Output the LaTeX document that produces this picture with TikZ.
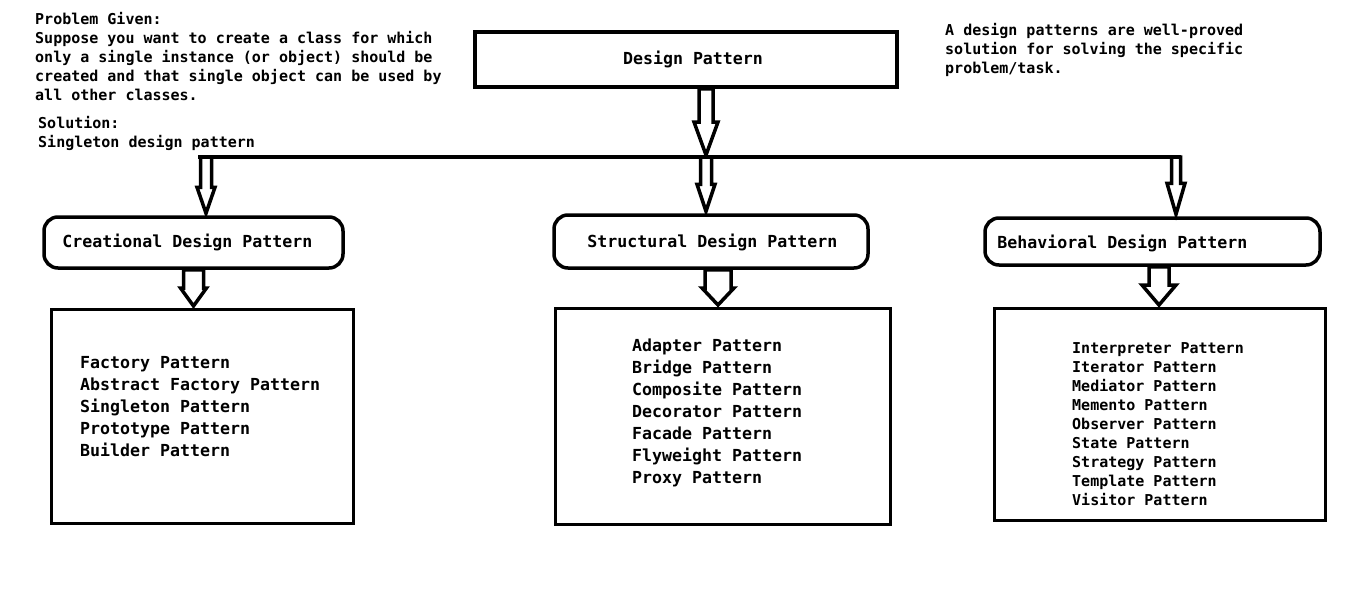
\documentclass[tikz,border=0pt]{standalone}
\usepackage{fontspec}
\newfontfamily\consfont{DejaVu Sans Mono}
\newcommand{\smallfont}{\consfont\bfseries\fontsize{15}{19}\selectfont}
\newcommand{\bigfont}{\consfont\bfseries\fontsize{16.6}{22}\selectfont}
\usetikzlibrary{calc}
\tikzset{
  smalltxt/.style={anchor=base west, inner sep=0pt, font=\smallfont},
  bigtxt/.style={anchor=base west, inner sep=0pt, font=\bigfont},
  mainbox/.style={draw, line width=3.5pt, inner sep=0pt},
  roundbox/.style={draw, line width=3.5pt, rounded corners=14pt, inner sep=0pt},
  listbox/.style={draw, line width=3pt, inner sep=0pt},
  arrowline/.style={draw, fill=white, line width=3.5pt},
}
% hollow block arrow: from, to, shaft half width, head half width, head length
\newcommand{\blockarrow}[5]{%
  \path[arrowline] let \p1=(#1), \p2=(#2) in
    (\x1-#3,\y1) -- (\x1-#3,\y2+#5) -- (\x1-#4,\y2+#5) -- (\x1,\y2+2pt)
    -- (\x1+#4,\y2+#5) -- (\x1+#3,\y2+#5) -- (\x1+#3,\y1) -- cycle;}

\begin{document}
\begin{tikzpicture}[x=1pt,y=-1pt]
\useasboundingbox[fill=white] (0,0) rectangle (1360,592);

% problem statement
\foreach \ln [count=\i from 0] in {Problem Given:,
    Suppose you want to create a class for which,
    only a single instance (or object) should be,
    created and that single object can be used by,
    all other classes.}
  \node[smalltxt] (pg\i) at (35,{24.5+19*\i}) {\ln};
\node[smalltxt] (sol) at (38,128.5) {Solution:};
\node[smalltxt] (solv) at (38,147.5) {Singleton design pattern};

% definition
\foreach \ln [count=\i from 0] in {A design patterns are well-proved,
    solution for solving the specific,
    problem/task.}
  \node[smalltxt] (def\i) at (945,{35.5+19*\i}) {\ln};

% boxes
\node[mainbox, minimum width=422pt, minimum height=55pt, font=\bigfont] (dp) at (686,59.5) {\hspace*{14pt}Design Pattern};
\node[roundbox, minimum width=299pt, minimum height=51pt] (cr) at (193.5,242.5) {};
\node[roundbox, minimum width=314pt, minimum height=53pt] (st) at (711,241.5) {};
\node[roundbox, minimum width=335pt, minimum height=47pt] (bh) at (1152.5,241.5) {};
\node[bigtxt] (crt) at ([xshift=20pt,yshift=-4.5pt]cr.west) {Creational Design Pattern};
\node[bigtxt] (stt) at ([xshift=35pt,yshift=-5.5pt]st.west) {Structural Design Pattern};
\node[bigtxt] (bht) at ([xshift=14pt,yshift=-6.5pt]bh.west) {Behavioral Design Pattern};

\node[listbox, minimum width=302pt, minimum height=214pt] (crl) at (202.5,416.5) {};
\node[listbox, minimum width=335pt, minimum height=216pt] (stl) at (723,416.5) {};
\node[listbox, minimum width=331pt, minimum height=212pt] (bhl) at (1160,414.5) {};

% pattern lists
\foreach \ln [count=\i from 0] in {Factory Pattern, Abstract Factory Pattern,
    Singleton Pattern, Prototype Pattern, Builder Pattern}
  \node[bigtxt] (cri\i) at (80,{368+22*\i}) {\ln};
\foreach \ln [count=\i from 0] in {Adapter Pattern, Bridge Pattern,
    Composite Pattern, Decorator Pattern, Facade Pattern,
    Flyweight Pattern, Proxy Pattern}
  \node[bigtxt] (sti\i) at (632,{351+22*\i}) {\ln};
\foreach \ln [count=\i from 0] in {Interpreter Pattern, Iterator Pattern,
    Mediator Pattern, Memento Pattern, Observer Pattern, State Pattern,
    Strategy Pattern, Template Pattern, Visitor Pattern}
  \node[smalltxt] (bhi\i) at (1072,{353.5+19*\i}) {\ln};

% bus
\coordinate (busL) at (206,157);
\coordinate (busM) at (706,157);
\coordinate (busR) at (1176,157);
\draw[line width=4pt] ([xshift=-8pt]busL) -- ([xshift=5pt]busR);

% arrows
\blockarrow{dp.south -| busM}{busM}{7pt}{12pt}{35pt}
\blockarrow{busM}{st.north -| busM}{5.5pt}{9pt}{29pt}
\blockarrow{busL}{cr.north -| busL}{5.5pt}{9pt}{28pt}
\blockarrow{busR}{bh.north -| busR}{4.5pt}{9pt}{33pt}
\blockarrow{cr.south}{cr.south |- crl.north}{10pt}{13pt}{20pt}
\blockarrow{[xshift=7pt]st.south}{[xshift=7pt]st.south |- stl.north}{13pt}{16pt}{19pt}
\blockarrow{[xshift=6.5pt]bh.south}{[xshift=6.5pt]bh.south |- bhl.north}{10pt}{17pt}{22pt}
\end{tikzpicture}
\end{document}
